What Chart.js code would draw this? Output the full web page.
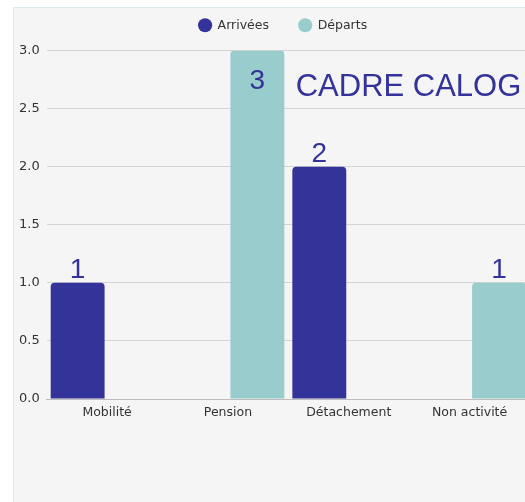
<!DOCTYPE html>
<html>
<head>
<meta charset="utf-8">
<script src="https://cdn.jsdelivr.net/npm/chart.js@4"></script>
<style>
  html, body { margin: 0; padding: 0; background: #fff; width: 525px; height: 502px; overflow: hidden; }
  .panel {
    position: absolute; left: 13px; top: 7px; width: 560px; height: 520px;
    background: #f5f5f5; border: 1px solid #dcebed;
  }
  #chart { position: absolute; left: 10px; top: -11px; }
</style>
</head>
<body>
<div class="panel"></div>
<canvas id="chart" width="540" height="437"></canvas>
<script>
// data
const categories = ['Mobilité', 'Pension', 'Détachement', 'Non activité'];
const arrivees = [1, null, 2, null];
const departs = [null, 3, null, 1];
const yTickLabels = ['0.0', '0.5', '1.0', '1.5', '2.0', '2.5', '3.0'];
const seriesNames = ['Arrivées', 'Départs'];
const titleText = 'CADRE CALOG';

const dark = '#333399';
const teal = '#99cccc';
const font = '"DejaVu Sans", Verdana, sans-serif';

// a bit more room under the legend, and nudge it to the right
const legendTweak = {
  id: 'legendTweak',
  beforeInit(chart) {
    const fit = chart.legend.fit;
    chart.legend.fit = function () {
      fit.bind(chart.legend)();
      this.height += 9;
    };
  },
  afterLayout(chart) {
    chart.legend.left += 12;
    chart.legend.right += 12;
  }
};

// numbers on top of the bars + the big caption
const valueLabels = {
  id: 'valueLabels',
  afterDatasetsDraw(chart) {
    const { ctx, chartArea } = chart;
    ctx.save();
    ctx.fillStyle = dark;
    ctx.font = '28px "Liberation Sans", Arial, sans-serif';
    ctx.textAlign = 'center';
    ctx.textBaseline = 'alphabetic';
    chart.data.datasets.forEach((ds, i) => {
      chart.getDatasetMeta(i).data.forEach((bar, j) => {
        const v = ds.data[j];
        if (v == null) return;
        let y = bar.y - 5;
        // no room above -> put it inside the bar
        if (y - 21 < chartArea.top) y = bar.y + 38;
        ctx.fillText(String(v), bar.x, y);
      });
    });
    ctx.font = '31px "Liberation Sans", Arial, sans-serif';
    ctx.textAlign = 'left';
    ctx.fillText(titleText, chartArea.left + 249, chartArea.top + 45);
    ctx.restore();
  }
};

new Chart(document.getElementById('chart'), {
  type: 'bar',
  data: {
    labels: categories,
    datasets: [
      { label: seriesNames[0], data: arrivees, backgroundColor: dark, borderRadius: 4 },
      { label: seriesNames[1], data: departs, backgroundColor: teal, borderRadius: 4 }
    ]
  },
  options: {
    responsive: false,
    animation: false,
    categoryPercentage: 0.975,
    barPercentage: 0.915,
    layout: { padding: { left: 2, right: 20, top: 0, bottom: 0 } },
    plugins: {
      tooltip: { enabled: false },
      legend: {
        position: 'top',
        labels: {
          usePointStyle: true,
          pointStyle: 'circle',
          boxHeight: 10,
          padding: 30,
          color: '#333',
          font: { family: font, size: 12.5 }
        }
      }
    },
    scales: {
      x: {
        grid: { display: false, drawTicks: false },
        border: { display: true, color: '#bdbdbd' },
        ticks: {
          padding: 6,
          color: '#333',
          font: { family: font, size: 12.5 }
        }
      },
      y: {
        min: 0,
        max: 3,
        grid: { color: '#d4d4d4', drawTicks: false },
        border: { display: false },
        ticks: {
          stepSize: 0.5,
          padding: 7,
          color: '#333',
          font: { family: font, size: 13 },
          callback: (v, i) => yTickLabels[i]
        }
      }
    }
  },
  plugins: [legendTweak, valueLabels]
});
</script>
</body>
</html>
